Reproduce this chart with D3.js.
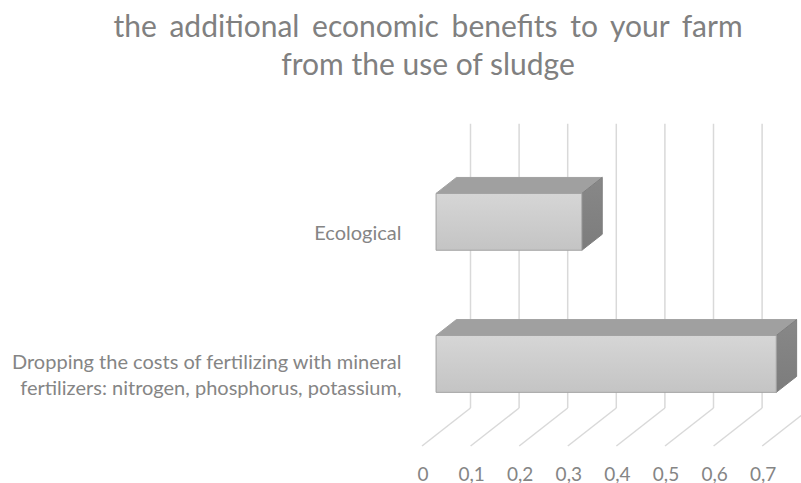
<!DOCTYPE html>
<html>
<head>
<meta charset="utf-8">
<script src="https://cdn.jsdelivr.net/npm/d3@7"></script>
<style>
  html, body { margin: 0; padding: 0; background: #ffffff; }
  svg { display: block; }
  text { font-family: Lato, "Open Sans", sans-serif; }
</style>
</head>
<body>
<svg id="chart" width="801" height="483"></svg>
<script>
// Chart data
const titleLines = ["the additional economic benefits to your farm", "from the use of sludge"];
const categories = [
  ["Ecological"],
  ["Dropping the costs of fertilizing with mineral", "fertilizers: nitrogen, phosphorus, potassium,"]
];
const values = [0.3, 0.7];
const tickValues = [0, 0.1, 0.2, 0.3, 0.4, 0.5, 0.6, 0.7];
const tickLabels = ["0", "0,1", "0,2", "0,3", "0,4", "0,5", "0,6", "0,7"];

const W = 801, H = 483;
const svg = d3.select("#chart");

// Front plane of the 3D box and the oblique depth vector
const front = { left: 422, right: 762.2, top: 161.8, bottom: 446 };
const depth = { dx: 48.5, dy: -38 };
const barDepth = [0.29, 0.71]; // bar occupies this slice of the floor depth

const x = d3.scaleLinear().domain([0, 0.7]).range([front.left, front.right]);
const y = d3.scaleBand()
  .domain(d3.range(categories.length))
  .range([front.top, front.bottom])
  .paddingInner(0.6)
  .paddingOuter(0.3);

// project a front-plane point pushed back by t (0 = front, 1 = back wall)
const P = (px, py, t) => [px + t * depth.dx, py + t * depth.dy];
const poly = pts => "M" + pts.map(p => p.join(",")).join("L") + "Z";

const defs = svg.append("defs");
const g1 = defs.append("linearGradient").attr("id", "frontFace")
  .attr("x1", 0).attr("y1", 0).attr("x2", 0).attr("y2", 1);
g1.append("stop").attr("offset", 0).attr("stop-color", "#d6d6d6");
g1.append("stop").attr("offset", 1).attr("stop-color", "#c4c4c4");
const g2 = defs.append("linearGradient").attr("id", "sideFace")
  .attr("x1", 0).attr("y1", 0).attr("x2", 0).attr("y2", 1);
g2.append("stop").attr("offset", 0).attr("stop-color", "#888888");
g2.append("stop").attr("offset", 1).attr("stop-color", "#7c7c7c");

// Title
svg.append("g").selectAll("text").data(titleLines).join("text")
  .attr("x", 428)
  .attr("y", (d, i) => 36.7 + i * 38.3)
  .attr("text-anchor", "middle")
  .attr("fill", "#808080")
  .attr("font-size", 30)
  .attr("word-spacing", (d, i) => i === 0 ? 5 : 0)
  .text(d => d);

// Back-wall gridlines
const grid = svg.append("g").attr("stroke", "#d9d9d9").attr("stroke-width", 1.5).attr("fill", "none");
grid.selectAll("path.wall").data(tickValues).join("path")
  .attr("class", "wall")
  .attr("d", v => "M" + P(x(v), front.top, 1).join(",") + "L" + P(x(v), front.bottom, 1).join(","));
// Floor lines running from back wall to front edge
grid.selectAll("path.floor").data(tickValues).join("path")
  .attr("class", "floor")
  .attr("d", v => "M" + P(x(v), front.bottom, 1).join(",") + "L" + P(x(v), front.bottom, 0).join(","));

// Value axis labels along the front edge of the floor
svg.append("g").selectAll("text").data(tickValues).join("text")
  .attr("x", v => x(v) + 1)
  .attr("y", 480.5)
  .attr("text-anchor", "middle")
  .attr("fill", "#858585")
  .attr("font-size", 19)
  .text((v, i) => tickLabels[i]);

// Category labels
const catG = svg.append("g");
categories.forEach((lines, i) => {
  const cy = y(i) + y.bandwidth() / 2;
  const lh = 25.7;
  const t = catG.append("text")
    .attr("text-anchor", "end")
    .attr("fill", "#858585")
    .attr("font-size", 20);
  lines.forEach((ln, j) => {
    t.append("tspan")
      .attr("x", 401.5)
      .attr("y", cy + 6.8 + (j - (lines.length - 1) / 2) * lh)
      .text(ln);
  });
});

// 3D bars
const [t0, t1] = barDepth;
const bars = svg.append("g").attr("stroke", "#a2a2a2").attr("stroke-width", 1).attr("stroke-linejoin", "round");
values.forEach((v, i) => {
  const yt = y(i), yb = y(i) + y.bandwidth();
  const x0 = x(0), x1 = x(v);
  const b = bars.append("g");
  // top face
  b.append("path").attr("fill", "#a0a0a0")
    .attr("d", poly([P(x0, yt, t0), P(x1, yt, t0), P(x1, yt, t1), P(x0, yt, t1)]));
  // end face
  b.append("path").attr("fill", "url(#sideFace)").attr("stroke", "#7e7e7e")
    .attr("d", poly([P(x1, yt, t0), P(x1, yt, t1), P(x1, yb, t1), P(x1, yb, t0)]));
  // front face
  b.append("path").attr("fill", "url(#frontFace)")
    .attr("d", poly([P(x0, yt, t0), P(x1, yt, t0), P(x1, yb, t0), P(x0, yb, t0)]));
});
</script>
</body>
</html>
